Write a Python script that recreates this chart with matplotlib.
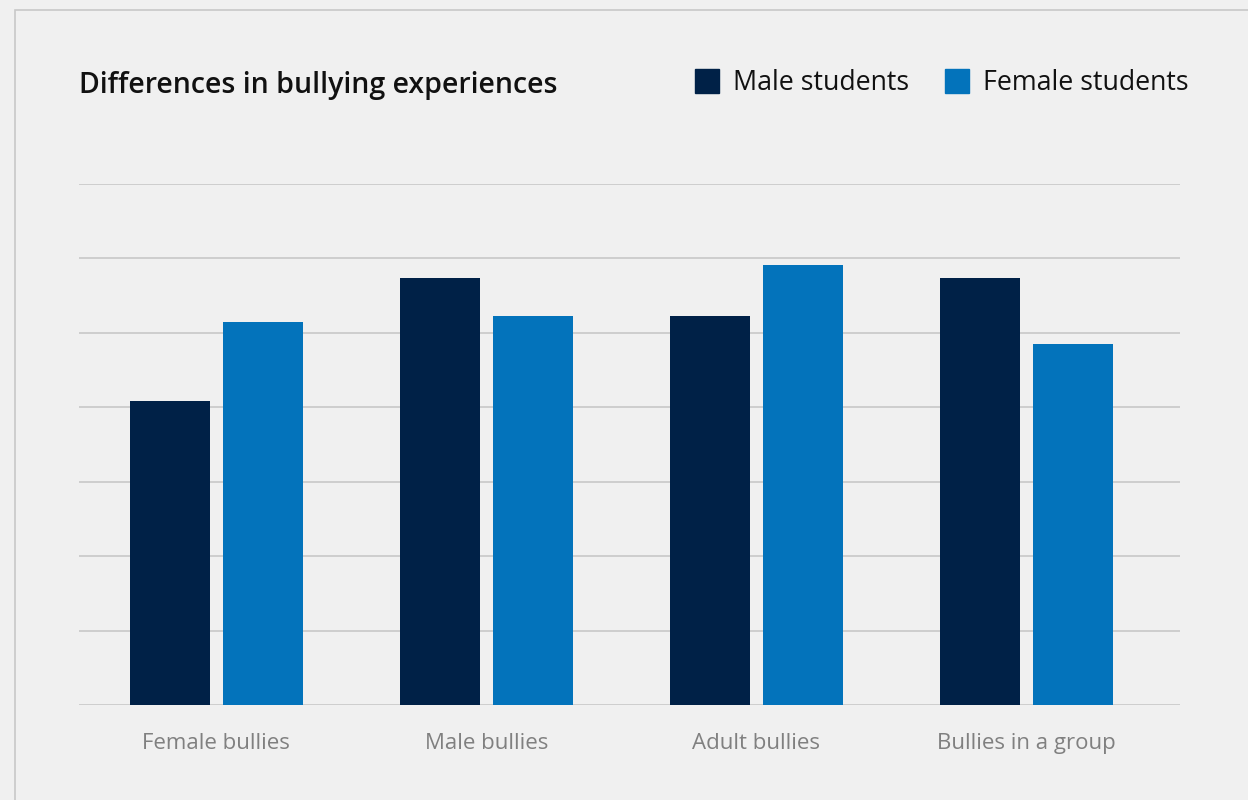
import numpy as np
import matplotlib.pyplot as plt
from matplotlib.lines import Line2D
from matplotlib.patches import Rectangle

categories = ['Female bullies', 'Male bullies', 'Adult bullies', 'Bullies in a group']
male = [40.9, 57.4, 52.2, 57.4]
female = [51.5, 52.2, 59.1, 48.5]

navy = '#002147'
blue = '#0373bb'
bg = '#f0f0f0'

plt.rcParams['font.family'] = ['Open Sans', 'DejaVu Sans']

fig = plt.figure(figsize=(12.48, 8), dpi=100, facecolor=bg)
# outer card border
fig.patches.append(Rectangle((15 / 1248, -0.1), 1.2, (800 - 10) / 800 + 0.1,
                             transform=fig.transFigure, fill=False,
                             edgecolor='#c8c8c8', linewidth=1.2))

ax = fig.add_axes([79 / 1248, (800 - 705) / 800, (1180 - 79) / 1248, (705 - 184) / 800])
ax.set_facecolor(bg)

x = np.arange(len(categories))
w = 0.296
off = 0.172
ax.bar(x - off, male, w, color=navy, zorder=3, label='Male students')
ax.bar(x + off, female, w, color=blue, zorder=3, label='Female students')

ax.set_xlim(-0.509, 3.569)
ax.set_ylim(0, 70)
ax.set_yticks(np.arange(0, 71, 10))
ax.yaxis.grid(True, color='#c8c8c8', linewidth=1.2, zorder=0)
ax.tick_params(axis='y', left=False, labelleft=False)
ax.tick_params(axis='x', bottom=False, pad=17, labelsize=16, labelcolor='#808080')
ax.set_xticks(x)
ax.set_xticklabels(categories)
for s in ax.spines.values():
    s.set_visible(False)

fig.text(79 / 1248, 1 - 85 / 800, 'Differences in bullying experiences',
         fontsize=20.5, fontweight='semibold', color='#111111', va='center', ha='left')

handles = [Line2D([], [], marker='s', linestyle='none', markersize=17.5, color=navy),
           Line2D([], [], marker='s', linestyle='none', markersize=17.5, color=blue)]
fig.legend(handles, ['Male students', 'Female students'], loc='center right',
           bbox_to_anchor=(1213 / 1248, 1 - 83 / 800), ncol=2, frameon=False,
           fontsize=19.3, handletextpad=0.49, columnspacing=1.27, handlelength=1.0,
           labelcolor='#111111')

fig.savefig('out.png', dpi=100, facecolor=bg)
